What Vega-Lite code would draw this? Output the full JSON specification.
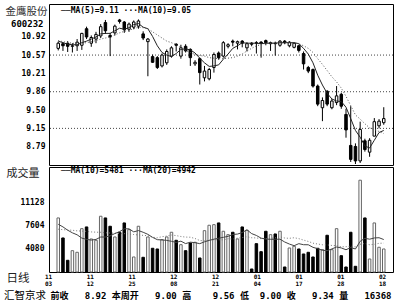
{
  "$schema": "https://vega.github.io/schema/vega-lite/v6.json",
  "background": "white",
  "padding": {"left": 2, "top": 3, "right": 6, "bottom": 2},
  "spacing": 0,
  "datasets": {
    "k": [
{"i":0,"o":10.7,"h":10.83,"l":10.66,"c":10.8,"v":8759,"m5":10.84,"m10":10.85,"vm10":7800,"vm20":7050},
{"i":1,"o":10.79,"h":10.82,"l":10.65,"c":10.75,"v":5721,"m5":10.81,"m10":10.83,"vm10":7400,"vm20":6980},
{"i":2,"o":10.8,"h":10.84,"l":10.63,"c":10.74,"v":2333,"m5":10.78,"m10":10.81,"vm10":6900,"vm20":6930},
{"i":3,"o":10.74,"h":10.8,"l":10.62,"c":10.75,"v":3791,"m5":10.77,"m10":10.8,"vm10":6500,"vm20":6890},
{"i":4,"o":10.75,"h":10.88,"l":10.65,"c":10.82,"v":3548,"m5":10.77,"m10":10.79,"vm10":6200,"vm20":6800},
{"i":5,"o":10.76,"h":11.0,"l":10.67,"c":10.99,"v":7133,"m5":10.81,"m10":10.8,"vm10":5700,"vm20":6760},
{"i":6,"o":11.08,"h":11.12,"l":10.88,"c":10.92,"v":7392,"m5":10.84,"m10":10.81,"vm10":5500,"vm20":6720},
{"i":7,"o":10.8,"h":10.95,"l":10.73,"c":10.91,"v":5569,"m5":10.88,"m10":10.83,"vm10":5400,"vm20":6640},
{"i":8,"o":10.88,"h":11.02,"l":10.8,"c":10.97,"v":5371,"m5":10.92,"m10":10.85,"vm10":5500,"vm20":6600},
{"i":9,"o":10.94,"h":11.17,"l":10.9,"c":11.12,"v":9017,"m5":10.98,"m10":10.88,"vm10":5863,"vm20":6580},
{"i":10,"o":11.2,"h":11.25,"l":10.98,"c":11.04,"v":8759,"m5":10.99,"m10":10.9,"vm10":5863,"vm20":6510},
{"i":11,"o":10.95,"h":11.0,"l":10.55,"c":10.92,"v":7498,"m5":10.99,"m10":10.92,"vm10":6041,"vm20":6470},
{"i":12,"o":11.0,"h":11.16,"l":10.95,"c":11.13,"v":5873,"m5":11.04,"m10":10.96,"vm10":6395,"vm20":6430},
{"i":13,"o":11.25,"h":11.27,"l":11.18,"c":11.22,"v":6587,"m5":11.09,"m10":11.0,"vm10":6675,"vm20":6390},
{"i":14,"o":11.21,"h":11.23,"l":11.0,"c":11.06,"v":8000,"m5":11.07,"m10":11.03,"vm10":7120,"vm20":6380},
{"i":15,"o":11.07,"h":11.2,"l":11.02,"c":11.17,"v":6981,"m5":11.1,"m10":11.05,"vm10":7105,"vm20":6330},
{"i":16,"o":11.11,"h":11.24,"l":11.07,"c":11.21,"v":2835,"m5":11.16,"m10":11.08,"vm10":6649,"vm20":6240},
{"i":17,"o":11.13,"h":11.26,"l":11.08,"c":11.23,"v":7498,"m5":11.18,"m10":11.11,"vm10":6842,"vm20":6180},
{"i":18,"o":10.98,"h":11.03,"l":10.86,"c":10.9,"v":2789,"m5":11.11,"m10":11.1,"vm10":6584,"vm20":6120},
{"i":19,"o":10.83,"h":10.9,"l":10.16,"c":10.88,"v":5873,"m5":11.08,"m10":11.08,"vm10":6269,"vm20":6066},
{"i":20,"o":10.54,"h":10.58,"l":10.42,"c":10.43,"v":4156,"m5":10.93,"m10":11.02,"vm10":5809,"vm20":5836},
{"i":21,"o":10.52,"h":10.55,"l":10.3,"c":10.33,"v":4050,"m5":10.75,"m10":10.96,"vm10":5464,"vm20":5753},
{"i":22,"o":10.36,"h":10.6,"l":10.33,"c":10.57,"v":5463,"m5":10.62,"m10":10.9,"vm10":5423,"vm20":5909},
{"i":23,"o":10.42,"h":10.68,"l":10.38,"c":10.64,"v":5873,"m5":10.57,"m10":10.84,"vm10":5352,"vm20":6013},
{"i":24,"o":10.55,"h":10.74,"l":10.52,"c":10.71,"v":6587,"m5":10.54,"m10":10.81,"vm10":5211,"vm20":6165},
{"i":25,"o":10.78,"h":10.8,"l":10.64,"c":10.76,"v":5371,"m5":10.6,"m10":10.77,"vm10":5050,"vm20":6077},
{"i":26,"o":10.55,"h":10.77,"l":10.5,"c":10.71,"v":4703,"m5":10.68,"m10":10.72,"vm10":5236,"vm20":5943},
{"i":27,"o":10.74,"h":10.78,"l":10.62,"c":10.65,"v":3791,"m5":10.69,"m10":10.66,"vm10":4866,"vm20":5854},
{"i":28,"o":10.68,"h":10.7,"l":10.36,"c":10.52,"v":4961,"m5":10.67,"m10":10.62,"vm10":5083,"vm20":5833},
{"i":29,"o":10.4,"h":10.47,"l":10.36,"c":10.43,"v":5067,"m5":10.61,"m10":10.58,"vm10":5002,"vm20":5636},
{"i":30,"o":10.5,"h":10.52,"l":10.0,"c":10.23,"v":2683,"m5":10.51,"m10":10.56,"vm10":4855,"vm20":5332},
{"i":31,"o":10.13,"h":10.36,"l":10.06,"c":10.26,"v":6829,"m5":10.42,"m10":10.55,"vm10":5133,"vm20":5299},
{"i":32,"o":10.11,"h":10.32,"l":10.08,"c":10.29,"v":7650,"m5":10.35,"m10":10.52,"vm10":5352,"vm20":5387},
{"i":33,"o":10.33,"h":10.62,"l":10.23,"c":10.58,"v":7741,"m5":10.36,"m10":10.51,"vm10":5538,"vm20":5445},
{"i":34,"o":10.61,"h":10.64,"l":10.48,"c":10.52,"v":8000,"m5":10.38,"m10":10.5,"vm10":5680,"vm20":5445},
{"i":35,"o":10.55,"h":10.84,"l":10.52,"c":10.81,"v":6738,"m5":10.49,"m10":10.5,"vm10":5816,"vm20":5433},
{"i":36,"o":10.74,"h":10.8,"l":10.7,"c":10.77,"v":6222,"m5":10.59,"m10":10.51,"vm10":5968,"vm20":5602},
{"i":37,"o":10.84,"h":10.87,"l":10.74,"c":10.82,"v":6587,"m5":10.7,"m10":10.52,"vm10":6248,"vm20":5557},
{"i":38,"o":10.8,"h":10.85,"l":10.68,"c":10.83,"v":5569,"m5":10.75,"m10":10.55,"vm10":6309,"vm20":5696},
{"i":39,"o":10.84,"h":10.86,"l":10.72,"c":10.8,"v":7392,"m5":10.81,"m10":10.59,"vm10":6541,"vm20":5772},
{"i":40,"o":10.71,"h":10.82,"l":10.64,"c":10.79,"v":6890,"m5":10.8,"m10":10.65,"vm10":6962,"vm20":5908},
{"i":41,"o":10.8,"h":10.82,"l":10.74,"c":10.78,"v":1012,"m5":10.8,"m10":10.7,"vm10":6380,"vm20":5756},
{"i":42,"o":10.81,"h":10.84,"l":10.6,"c":10.8,"v":4855,"m5":10.8,"m10":10.75,"vm10":6101,"vm20":5726},
{"i":43,"o":10.82,"h":10.84,"l":10.52,"c":10.8,"v":3640,"m5":10.79,"m10":10.77,"vm10":5691,"vm20":5614},
{"i":44,"o":10.85,"h":10.87,"l":10.76,"c":10.81,"v":6738,"m5":10.8,"m10":10.8,"vm10":5564,"vm20":5622},
{"i":45,"o":10.79,"h":10.83,"l":10.65,"c":10.81,"v":6222,"m5":10.8,"m10":10.8,"vm10":5513,"vm20":5665},
{"i":46,"o":10.8,"h":10.83,"l":10.56,"c":10.79,"v":6328,"m5":10.8,"m10":10.8,"vm10":5523,"vm20":5746},
{"i":47,"o":10.76,"h":10.86,"l":10.73,"c":10.84,"v":6738,"m5":10.81,"m10":10.81,"vm10":5538,"vm20":5893},
{"i":48,"o":10.84,"h":10.86,"l":10.78,"c":10.81,"v":1316,"m5":10.81,"m10":10.8,"vm10":5113,"vm20":5711},
{"i":49,"o":10.75,"h":10.84,"l":10.72,"c":10.82,"v":4202,"m5":10.81,"m10":10.81,"vm10":4794,"vm20":5668},
{"i":50,"o":10.72,"h":10.82,"l":10.7,"c":10.8,"v":4460,"m5":10.81,"m10":10.81,"vm10":4551,"vm20":5756},
{"i":51,"o":10.75,"h":10.77,"l":10.62,"c":10.66,"v":4050,"m5":10.79,"m10":10.79,"vm10":4855,"vm20":5618},
{"i":52,"o":10.6,"h":10.64,"l":10.29,"c":10.4,"v":3290,"m5":10.7,"m10":10.75,"vm10":4698,"vm20":5400},
{"i":53,"o":10.33,"h":10.36,"l":10.22,"c":10.26,"v":3548,"m5":10.59,"m10":10.7,"vm10":4689,"vm20":5190},
{"i":54,"o":10.29,"h":10.31,"l":9.94,"c":9.97,"v":2835,"m5":10.42,"m10":10.62,"vm10":4299,"vm20":4932},
{"i":55,"o":9.97,"h":10.0,"l":9.58,"c":9.62,"v":4156,"m5":10.18,"m10":10.5,"vm10":4092,"vm20":4803},
{"i":56,"o":9.55,"h":9.75,"l":9.29,"c":9.69,"v":3943,"m5":9.99,"m10":10.39,"vm10":3854,"vm20":4689},
{"i":57,"o":9.87,"h":9.89,"l":9.58,"c":9.62,"v":6131,"m5":9.83,"m10":10.27,"vm10":3793,"vm20":4666},
{"i":58,"o":9.55,"h":9.72,"l":9.52,"c":9.68,"v":3943,"m5":9.72,"m10":10.15,"vm10":4056,"vm20":4584},
{"i":59,"o":9.65,"h":9.97,"l":9.6,"c":9.78,"v":7133,"m5":9.68,"m10":10.05,"vm10":4349,"vm20":4572},
{"i":60,"o":9.81,"h":9.84,"l":9.53,"c":9.58,"v":3032,"m5":9.67,"m10":9.93,"vm10":4206,"vm20":4379},
{"i":61,"o":9.42,"h":9.53,"l":8.97,"c":9.12,"v":1316,"m5":9.56,"m10":9.77,"vm10":3933,"vm20":4394},
{"i":62,"o":8.82,"h":9.58,"l":8.5,"c":8.55,"v":6587,"m5":9.34,"m10":9.59,"vm10":4262,"vm20":4480},
{"i":63,"o":8.8,"h":8.86,"l":8.46,"c":8.52,"v":1422,"m5":9.11,"m10":9.41,"vm10":4050,"vm20":4369},
{"i":64,"o":8.52,"h":9.28,"l":8.48,"c":9.13,"v":14485,"m5":8.98,"m10":9.33,"vm10":5215,"vm20":4757},
{"i":65,"o":8.91,"h":8.95,"l":8.7,"c":8.74,"v":8759,"m5":8.81,"m10":9.24,"vm10":5675,"vm20":4884},
{"i":66,"o":8.69,"h":8.96,"l":8.6,"c":8.92,"v":2531,"m5":8.77,"m10":9.16,"vm10":5534,"vm20":4694},
{"i":67,"o":9.0,"h":9.35,"l":9.0,"c":9.28,"v":8000,"m5":8.92,"m10":9.13,"vm10":5721,"vm20":4757},
{"i":68,"o":9.2,"h":9.33,"l":9.15,"c":9.29,"v":4308,"m5":9.07,"m10":9.09,"vm10":5757,"vm20":4906},
{"i":69,"o":9.26,"h":9.56,"l":9.22,"c":9.34,"v":4050,"m5":9.11,"m10":9.05,"vm10":5481,"vm20":4942}
    ],
    "grid": [{"p": 10.57}, {"p": 9.86}, {"p": 9.15}],
    "stat": [{"t": "\u00a0前收\u00a0\u00a0\u00a08.92\u00a0本周开\u00a0\u00a0\u00a09.00\u00a0高\u00a0\u00a0\u00a0\u00a09.56\u00a0低\u00a0\u00a09.00\u00a0收\u00a0\u00a0\u00a09.34\u00a0量\u00a0\u00a0\u00a016368"}]
  },
  "config": {
    "view": {"stroke": "#000", "strokeWidth": 1},
    "axis": {
      "labelFont": "DejaVu Sans Mono", "labelFontWeight": "bold", "labelFontSize": 8, "labelColor": "#000",
      "ticks": false, "tickSize": 0, "domain": false, "grid": false, "labelPadding": 4,
      "titleFont": "Noto Sans CJK SC", "titleFontWeight": "normal", "titleColor": "#222",
      "titleAngle": 0, "titleAlign": "left", "titleBaseline": "middle"
    }
  },
  "vconcat": [
    {
      "width": 344, "height": 161,
      "title": {"text": "──MA(5)=9.11 ···MA(10)=9.05", "anchor": "start", "frame": "group", "orient": "top", "offset": -15, "dx": 12, "baseline": "middle", "font": "DejaVu Sans Mono", "fontSize": 8, "fontWeight": "bold", "color": "#000"},
      "resolve": {"axis": {"y": "independent"}},
      "layer": [
        {
          "data": {"name": "grid"},
          "mark": {"type": "rule", "strokeDash": [1, 2], "color": "#444", "strokeWidth": 1},
          "encoding": {
            "y": {"field": "p", "type": "quantitative", "scale": {"domain": [8.441, 11.559], "nice": false, "zero": false},
              "axis": {"orient": "left", "labels": false, "title": "600232", "titleFont": "DejaVu Sans Mono", "titleFontWeight": "bold", "titleFontSize": 9, "titleAlign": "right", "titleX": -6, "titleY": 19, "titleColor": "#000", "minExtent": 46, "maxExtent": 46}}
          }
        },
        {
          "data": {"name": "k"},
          "mark": {"type": "rule", "color": "#000", "strokeWidth": 1},
          "encoding": {
            "x": {"field": "i", "type": "quantitative", "scale": {"domain": [-0.9, 69.9], "nice": false, "zero": false}, "axis": null},
            "y": {"field": "l", "type": "quantitative", "scale": {"domain": [8.441, 11.559], "nice": false, "zero": false},
              "axis": {"orient": "left", "values": [8.79, 9.15, 9.5, 9.86, 10.21, 10.57, 10.92], "format": ".2f", "title": "金鹰股份", "titleX": -44, "titleY": 7, "titleFontSize": 10.5, "titleColor": "#333", "minExtent": 46, "maxExtent": 46}},
            "y2": {"field": "h"}
          }
        },
        {
          "data": {"name": "k"},
          "mark": {"type": "bar", "size": 2.5, "stroke": "#000", "strokeWidth": 1},
          "encoding": {
            "x": {"field": "i", "type": "quantitative", "scale": {"domain": [-0.9, 69.9], "nice": false, "zero": false}, "axis": null},
            "y": {"field": "o", "type": "quantitative", "axis": null},
            "y2": {"field": "c"},
            "fill": {"condition": {"test": "datum.c >= datum.o", "value": "#ffffff"}, "value": "#000000"}
          }
        },
        {
          "data": {"name": "k"},
          "mark": {"type": "line", "color": "#222", "strokeWidth": 1},
          "encoding": {
            "x": {"field": "i", "type": "quantitative", "scale": {"domain": [-0.9, 69.9], "nice": false, "zero": false}, "axis": null},
            "y": {"field": "m5", "type": "quantitative", "axis": null}
          }
        },
        {
          "data": {"name": "k"},
          "mark": {"type": "line", "color": "#555", "strokeWidth": 1, "strokeDash": [1, 2]},
          "encoding": {
            "x": {"field": "i", "type": "quantitative", "scale": {"domain": [-0.9, 69.9], "nice": false, "zero": false}, "axis": null},
            "y": {"field": "m10", "type": "quantitative", "axis": null}
          }
        }
      ]
    },
    {
      "width": 344, "height": 105,
      "title": {"text": "──MA(10)=5481 ···MA(20)=4942", "anchor": "start", "frame": "group", "orient": "top", "offset": -12, "dx": 12, "baseline": "middle", "font": "DejaVu Sans Mono", "fontSize": 8, "fontWeight": "bold", "color": "#000"},
      "layer": [
        {
          "data": {"name": "k"},
          "mark": {"type": "bar", "size": 2.5, "strokeWidth": 1},
          "encoding": {
            "x": {"field": "i", "type": "quantitative", "scale": {"domain": [-0.9, 69.9], "nice": false, "zero": false},
              "axis": {"orient": "bottom", "values": [-0.9, 7.95, 16.8, 25.65, 34.5, 43.35, 52.2, 61.05, 69.9],
                "labelExpr": "[['11','03'],['11','12'],['11','25'],['12','08'],['12','21'],['01','04'],['01','17'],['01','28'],['02','18']][round((datum.value + 0.9) / 8.85)]",
                "labelFontSize": 6, "labelLineHeight": 7.5, "labelPadding": 1, "labelBaseline": "top", "labelAlign": "center", "labelOffset": -6,
                "labelOverlap": false, "labelFlush": false, "labelBound": false,
                "title": "日线", "titleX": -43, "titleY": 6, "titleFontSize": 11.5, "minExtent": 16, "maxExtent": 16}},
            "y": {"field": "v", "type": "quantitative", "scale": {"domain": [556, 16490], "nice": false, "zero": false},
              "axis": {"values": [4080, 7604, 11128], "format": "d", "labelPadding": 5, "title": "成交量", "titleX": -43, "titleY": 6, "titleFontSize": 11, "minExtent": 46, "maxExtent": 46}},
            "y2": {"datum": 556},
            "fill": {"condition": {"test": "datum.c >= datum.o", "value": "#ffffff"}, "value": "#000000"},
            "stroke": {"condition": {"test": "datum.c >= datum.o", "value": "#666666"}, "value": "#000000"}
          }
        },
        {
          "data": {"name": "k"},
          "mark": {"type": "line", "color": "#777", "strokeWidth": 1, "strokeDash": [1, 2]},
          "encoding": {
            "x": {"field": "i", "type": "quantitative"},
            "y": {"field": "vm20", "type": "quantitative"}
          }
        },
        {
          "data": {"name": "k"},
          "mark": {"type": "line", "color": "#444", "strokeWidth": 1},
          "encoding": {
            "x": {"field": "i", "type": "quantitative"},
            "y": {"field": "vm10", "type": "quantitative"}
          }
        }
      ]
    },
    {
      "width": 344, "height": 13,
      "data": {"name": "stat"},
      "title": {"text": "汇智京求", "orient": "left", "angle": 0, "align": "left", "baseline": "middle", "anchor": "middle", "offset": 3, "frame": "group", "font": "Noto Sans CJK SC", "fontSize": 10.5, "fontWeight": "normal", "color": "#000"},
      "mark": {"type": "text", "font": "DejaVu Sans Mono, Noto Sans CJK SC", "fontSize": 9, "fontWeight": "bold", "color": "#000", "baseline": "middle"},
      "encoding": {"text": {"field": "t", "type": "nominal"}}
    }
  ]
}
